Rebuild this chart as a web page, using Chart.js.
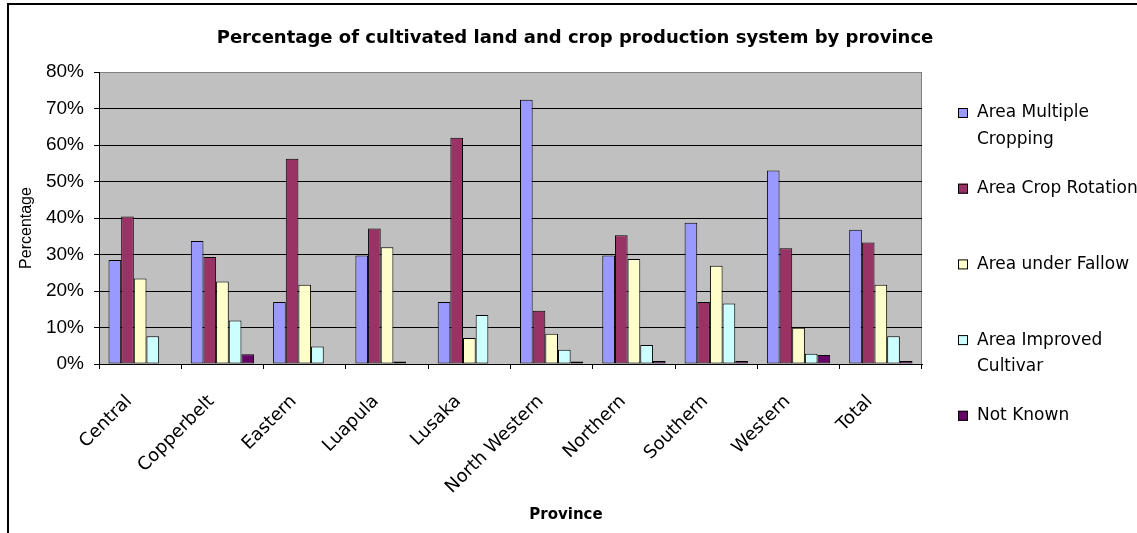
<!DOCTYPE html>
<html>
<head>
<meta charset="utf-8">
<script src="https://cdn.jsdelivr.net/npm/chart.js@4/dist/chart.umd.min.js"></script>
<style>
  html, body { margin: 0; padding: 0; background: #ffffff; }
  canvas { display: block; }
</style>
</head>
<body>
<canvas id="chart" width="1137" height="533"></canvas>
<script>
// Cultivated land by province, share (%) of each crop production system
const chartTitle = 'Percentage of cultivated land and crop production system by province';
const provinces = ['Central', 'Copperbelt', 'Eastern', 'Luapula', 'Lusaka', 'North Western', 'Northern', 'Southern', 'Western', 'Total'];
const seriesNames = ['Area Multiple Cropping', 'Area Crop Rotation', 'Area under Fallow', 'Area Improved Cultivar', 'Not Known'];
const multipleCropping = [28.5, 33.7, 17.0, 29.7, 17.0, 72.4, 29.7, 38.7, 53.0, 36.8];
const cropRotation     = [40.4, 29.3, 56.2, 37.1, 62.0, 14.6, 35.3, 17.0, 31.7, 33.3];
const underFallow      = [23.4, 22.6, 21.7, 32.0, 7.1, 8.3, 28.8, 26.9, 9.9, 21.7];
const improvedCultivar = [7.6, 11.9, 4.8, 0.7, 13.4, 3.9, 5.2, 16.6, 2.8, 7.6];
const notKnown         = [0, 2.7, 0, 0, 0, 0.7, 0.8, 0.8, 2.5, 0.8];
const yMax = 80;
const yStep = 10;
const xTitle = 'Province';
const yTitle = 'Percentage';

const seriesValues = [multipleCropping, cropRotation, underFallow, improvedCultivar, notKnown];
const seriesColors = ['#9999FF', '#993366', '#FFFFCC', '#CCFFFF', '#660066'];

const datasets = seriesNames.map((name, i) => ({
  label: name,
  data: seriesValues[i],
  backgroundColor: seriesColors[i],
  borderColor: '#000000',
  borderWidth: 1,
  borderSkipped: false,
  categoryPercentage: 5 / 6.5,
  barPercentage: 1
}));

// split a label into lines no wider than maxWidth
function wrapText(ctx, text, maxWidth) {
  const words = text.split(' ');
  const lines = [];
  let line = '';
  for (const w of words) {
    const test = line ? line + ' ' + w : w;
    if (line && ctx.measureText(test).width > maxWidth) {
      lines.push(line);
      line = w;
    } else {
      line = test;
    }
  }
  if (line) lines.push(line);
  return lines;
}

const framePlugin = {
  id: 'frame',
  beforeDraw(chart) {
    const { ctx, chartArea: a } = chart;
    ctx.save();
    ctx.fillStyle = '#C0C0C0';
    ctx.fillRect(a.left, a.top, a.right - a.left, a.bottom - a.top);
    ctx.strokeStyle = '#808080';
    ctx.lineWidth = 1;
    ctx.strokeRect(a.left + 0.5, a.top + 0.5, a.right - a.left - 1, a.bottom - a.top);
    ctx.restore();
  },
  afterDraw(chart) {
    const { ctx, chartArea: a } = chart;
    ctx.save();
    // outer chart frame
    ctx.strokeStyle = '#000000';
    ctx.lineWidth = 2;
    ctx.beginPath();
    ctx.moveTo(8, 533);
    ctx.lineTo(8, 4);
    ctx.lineTo(1137, 4);
    ctx.stroke();

    ctx.fillStyle = '#000000';
    ctx.textBaseline = 'middle';

    // chart title
    ctx.font = 'bold 18px "DejaVu Sans"';
    ctx.textAlign = 'center';
    ctx.fillText(chartTitle, 575, 38);

    // x axis title
    ctx.font = 'bold 15px "DejaVu Sans"';
    ctx.fillText(xTitle, 566, 515);

    // y axis title
    ctx.save();
    ctx.translate(27, (a.top + a.bottom) / 2 + 10);
    ctx.rotate(-Math.PI / 2);
    ctx.font = '16px "Liberation Sans"';
    ctx.fillText(yTitle, 0, 0);
    ctx.restore();

    // legend
    ctx.font = '17px "DejaVu Sans"';
    ctx.textAlign = 'left';
    const firstY = 113;
    const itemGap = 75.7;
    const lineH = 26.7;
    chart.data.datasets.forEach((ds, i) => {
      const y = firstY + i * itemGap;
      ctx.fillStyle = ds.backgroundColor;
      ctx.fillRect(958, y - 5, 10, 10);
      ctx.strokeStyle = '#000000';
      ctx.lineWidth = 1;
      ctx.strokeRect(958.5, y - 4.5, 9, 9);
      ctx.fillStyle = '#000000';
      const lines = wrapText(ctx, ds.label, 168);
      lines.forEach((ln, k) => ctx.fillText(ln, 977, y + k * lineH));
    });
    ctx.restore();
  }
};

new Chart(document.getElementById('chart'), {
  type: 'bar',
  data: { labels: provinces, datasets },
  plugins: [framePlugin],
  options: {
    responsive: false,
    animation: false,
    layout: { padding: { top: 72, right: 215, bottom: 0, left: 0 } },
    plugins: {
      legend: { display: false },
      title: { display: false },
      tooltip: { enabled: false }
    },
    scales: {
      x: {
        afterFit(scale) { scale.height = 169; },
        grid: {
          display: true,
          drawOnChartArea: false,
          drawTicks: true,
          tickLength: 5,
          tickColor: '#000000',
          offset: true
        },
        border: { display: true, color: '#000000', width: 1 },
        ticks: {
          autoSkip: false,
          minRotation: 45,
          maxRotation: 45,
          padding: 22,
          labelOffset: -11,
          color: '#000000',
          font: { family: '"DejaVu Sans"', size: 18 }
        },
        title: { display: false }
      },
      y: {
        min: 0,
        max: yMax,
        afterFit(scale) { scale.width = 99; },
        grid: {
          color: (c) => (c.tick && c.tick.value === yMax ? '#808080' : '#000000'),
          lineWidth: 1,
          drawTicks: true,
          tickLength: 5,
          tickColor: '#000000'
        },
        border: { display: true, color: '#000000', width: 1 },
        ticks: {
          stepSize: yStep,
          padding: 10,
          color: '#000000',
          font: { family: '"Liberation Sans"', size: 19 },
          callback: (v) => v + '%'
        },
        title: { display: false }
      }
    }
  }
});
</script>
</body>
</html>
